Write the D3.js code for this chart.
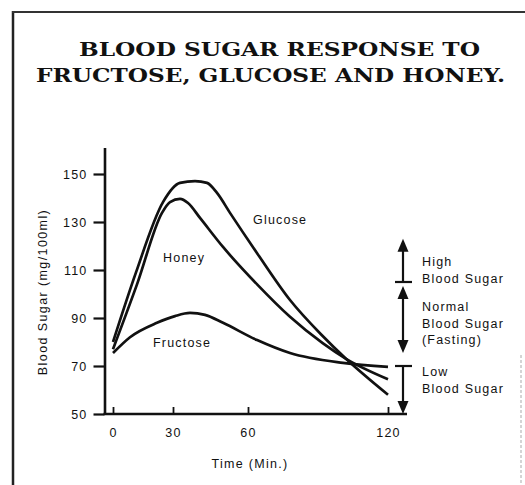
<!DOCTYPE html>
<html>
<head>
<meta charset="utf-8">
<script src="https://cdn.jsdelivr.net/npm/d3@7"></script>
<style>
body { margin: 0; background: #fff; }
text { font-family: "Liberation Sans", Arial, sans-serif; fill: #111; }
</style>
</head>
<body>
<svg id="chart" width="525" height="485"></svg>
<script>
// values
var xTicks = [0, 30, 60, 120];
var yTicks = [50, 70, 90, 110, 130, 150];

var glucoseTime  = [0, 11.5, 25, 32.8, 38.8, 43.6, 47.6, 52.8, 63.9, 78, 92, 102, 120];
var glucoseSugar = [80, 109, 138.3, 146.3, 147, 146.3, 142.1, 133.8, 117, 97.5, 82.5, 73, 58];

var honeyTime  = [0, 12, 24.5, 28.5, 32.8, 36, 40.8, 50, 63.9, 78, 92, 102, 120];
var honeySugar = [77, 104, 133.8, 138.3, 139.6, 137.9, 131.7, 119.6, 104, 90.5, 79.5, 73, 64.5];

var fructoseTime  = [0, 8.5, 22, 30.8, 36.8, 42.8, 50, 63.9, 78, 100.7, 120];
var fructoseSugar = [75.4, 82, 88, 90.8, 92.1, 91.3, 88, 80.8, 75.4, 71.3, 69.6];

var seriesNames = ["Glucose", "Honey", "Fructose"];

var zoneNames = [["High", "Blood Sugar"], ["Normal", "Blood Sugar", "(Fasting)"], ["Low", "Blood Sugar"]];
var zoneBounds = [[105, 123], [70, 105], [50, 70]];

var svg = d3.select('#chart');

// frame of the scanned page
svg.append('line').attr('x1', 13).attr('x2', 13).attr('y1', 11).attr('y2', 485)
  .attr('stroke', '#222').attr('stroke-width', 2.5);
svg.append('line').attr('x1', 12).attr('x2', 525).attr('y1', 12).attr('y2', 12)
  .attr('stroke', '#333').attr('stroke-width', 2);
svg.append('line').attr('x1', 521).attr('x2', 521).attr('y1', 355).attr('y2', 485)
  .attr('stroke', '#aaa').attr('stroke-width', 1).attr('stroke-dasharray', '3,2');

// title
var title = svg.append('g').attr('font-family', '"DejaVu Serif", "Liberation Serif", serif')
  .attr('font-weight', 'bold').attr('font-size', 19);
title.append('text').attr('x', 79).attr('y', 56)
  .attr('textLength', 401).attr('lengthAdjust', 'spacingAndGlyphs')
  .style('font-family', 'inherit')
  .text('BLOOD SUGAR RESPONSE TO');
title.append('text').attr('x', 36).attr('y', 82)
  .attr('textLength', 469).attr('lengthAdjust', 'spacingAndGlyphs')
  .style('font-family', 'inherit')
  .text('FRUCTOSE, GLUCOSE AND HONEY.');

// scales (the printed time axis is not evenly spaced)
var xScale = d3.scaleLinear()
  .domain([0, 30, 60, 120])
  .range([113, 173, 248, 388]);
var yScale = d3.scaleLinear()
  .domain([50, 161])
  .range([414, 147.6]);

var axisX = 104.5;
var axisY = 414;

var yAxis = d3.axisLeft(yScale)
  .tickValues(yTicks)
  .tickSize(11)
  .tickSizeOuter(0)
  .tickPadding(6);
var yAxisEle = svg.append('g')
  .attr('transform', 'translate(' + axisX + ',0)')
  .call(yAxis);
yAxisEle.select('.domain').attr('stroke', '#111').attr('stroke-width', 2.6);
yAxisEle.selectAll('.tick line').attr('stroke', '#111').attr('stroke-width', 2.2);
yAxisEle.selectAll('.tick text')
  .attr('font-family', '"Liberation Sans", Arial, sans-serif')
  .attr('font-size', 12.5).attr('letter-spacing', 1.2).attr('fill', '#111');

var xAxis = d3.axisBottom(xScale)
  .tickValues(xTicks)
  .tickSize(-7)
  .tickSizeOuter(0)
  .tickPadding(14);
var xAxisEle = svg.append('g')
  .attr('transform', 'translate(0,' + axisY + ')')
  .call(xAxis);
xAxisEle.select('.domain').remove();
xAxisEle.selectAll('.tick line').attr('stroke', '#111').attr('stroke-width', 1.8);
xAxisEle.selectAll('.tick text')
  .attr('font-family', '"Liberation Sans", Arial, sans-serif')
  .attr('font-size', 12.5).attr('letter-spacing', 1.2).attr('fill', '#111');
svg.append('line')
  .attr('x1', axisX - 1).attr('x2', xScale(120) + 19)
  .attr('y1', axisY).attr('y2', axisY)
  .attr('stroke', '#111').attr('stroke-width', 2.6);

// axis titles
svg.append('text')
  .attr('transform', 'translate(47,292) rotate(-90)')
  .attr('text-anchor', 'middle')
  .attr('font-size', 12.5).attr('letter-spacing', 1.4)
  .text('Blood Sugar (mg/100ml)');
svg.append('text')
  .attr('x', 250).attr('y', 468)
  .attr('text-anchor', 'middle')
  .attr('font-size', 12.5).attr('letter-spacing', 1.3)
  .text('Time (Min.)');

// curves
var seriesData = [
  d3.zip(glucoseTime, glucoseSugar),
  d3.zip(honeyTime, honeySugar),
  d3.zip(fructoseTime, fructoseSugar)
];
var line = d3.line()
  .x(function(d) { return xScale(d[0]); })
  .y(function(d) { return yScale(d[1]); })
  .curve(d3.curveMonotoneX);

svg.append('g').selectAll('path.curve')
    .data(seriesData)
  .enter().append('path')
    .classed('curve', true)
    .attr('d', line)
    .attr('fill', 'none')
    .attr('stroke', '#111')
    .attr('stroke-width', 2.7)
    .attr('stroke-linejoin', 'round');

var labelPos = [[253, 224], [163, 262], [153, 347]];
svg.append('g').selectAll('text')
    .data(seriesNames)
  .enter().append('text')
    .attr('x', function(d, i) { return labelPos[i][0]; })
    .attr('y', function(d, i) { return labelPos[i][1]; })
    .attr('font-size', 12.5).attr('letter-spacing', 1.2)
    .text(function(d) { return d; });

// range bracket on the right
var bx = 403;
var bracket = svg.append('g').attr('stroke', '#111').attr('fill', '#111');
function arrowUp(y) {
  bracket.append('path').attr('stroke', 'none')
    .attr('d', 'M' + bx + ',' + y + 'L' + (bx - 5.5) + ',' + (y + 13) + 'L' + (bx + 5.5) + ',' + (y + 13) + 'Z');
}
function arrowDown(y) {
  bracket.append('path').attr('stroke', 'none')
    .attr('d', 'M' + bx + ',' + y + 'L' + (bx - 5.5) + ',' + (y - 13) + 'L' + (bx + 5.5) + ',' + (y - 13) + 'Z');
}
function crossbar(y) {
  bracket.append('line').attr('x1', bx - 8).attr('x2', bx + 9)
    .attr('y1', y).attr('y2', y).attr('stroke-width', 2.2);
}
function stem(y1, y2) {
  bracket.append('line').attr('x1', bx).attr('x2', bx)
    .attr('y1', y1).attr('y2', y2).attr('stroke-width', 2.2);
}

// high
stem(yScale(zoneBounds[0][1]) + 6, yScale(zoneBounds[0][0]));
arrowUp(yScale(zoneBounds[0][1]));
crossbar(yScale(zoneBounds[0][0]));
// normal
stem(yScale(zoneBounds[1][1]) + 8, yScale(zoneBounds[1][0]) - 17);
arrowUp(yScale(zoneBounds[1][1]) + 4);
arrowDown(yScale(zoneBounds[1][0]) - 13);
crossbar(yScale(zoneBounds[1][0]));
// low
stem(yScale(zoneBounds[2][1]), yScale(zoneBounds[2][0]) - 6);
arrowDown(yScale(zoneBounds[2][0]));

var zoneLabelTop = [262, 307, 372];
zoneNames.forEach(function(lines, i) {
  var t = svg.append('text')
    .attr('x', 422)
    .attr('y', zoneLabelTop[i])
    .attr('font-size', 12.5).attr('letter-spacing', 1.2);
  lines.forEach(function(s, j) {
    t.append('tspan').attr('x', 422)
      .attr('y', zoneLabelTop[i] + j * 16.5)
      .attr('dy', '0.35em')
      .text(s);
  });
});
</script>
</body>
</html>
